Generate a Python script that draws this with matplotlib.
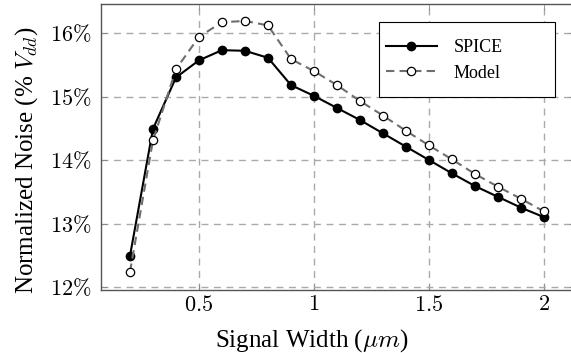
import numpy as np
import matplotlib.pyplot as plt
from matplotlib.patches import Rectangle
from matplotlib.ticker import FuncFormatter

plt.rcParams['font.family'] = ['Liberation Serif', 'DejaVu Serif']
plt.rcParams['mathtext.fontset'] = 'cm'

# signal width in um
width = [0.2, 0.3, 0.4, 0.5, 0.6, 0.7, 0.8, 0.9, 1.0, 1.1,
         1.2, 1.3, 1.4, 1.5, 1.6, 1.7, 1.8, 1.9, 2.0]
# normalized noise, % of Vdd
spice = [12.49, 14.49, 15.30, 15.57, 15.73, 15.72, 15.61, 15.18, 15.01, 14.82,
         14.63, 14.42, 14.21, 14.00, 13.79, 13.59, 13.42, 13.25, 13.10]
model = [12.24, 14.31, 15.43, 15.94, 16.17, 16.19, 16.12, 15.59, 15.40, 15.18,
         14.93, 14.70, 14.46, 14.23, 14.01, 13.78, 13.58, 13.39, 13.19]

xticks = [0.5, 1, 1.5, 2]
yticks = [12, 13, 14, 15, 16]

W, H = 571, 353
fig = plt.figure(figsize=(W/100, H/100), dpi=100)
ax = fig.add_axes([101/W, 63/H, 474/W, 286/H])

ax.plot(width, spice, '-o', color='black', lw=1.5, ms=6,
        mfc='black', mec='black', label='SPICE', zorder=3)
ax.plot(width, model, '--o', color='#6e6e6e', lw=1.5, ms=6,
        mfc='white', mec='black', mew=0.9, dashes=(4, 2.5), label='Model', zorder=3)

ax.set_xlim(0.074, 2.135)
ax.set_ylim(11.953, 16.457)
ax.set_xticks(xticks)
ax.set_yticks(yticks)
ax.xaxis.set_major_formatter(FuncFormatter(lambda v, p: r'$%g$' % v))
ax.yaxis.set_major_formatter(FuncFormatter(lambda v, p: r'$%d\%%$' % v))
ax.tick_params(direction='in', length=4, width=0.6, color='#888888',
               labelsize=16, top=True, right=True)
ax.tick_params(axis='y', pad=7)
ax.tick_params(axis='x', pad=4)

ax.grid(True, color='#aaaaaa', ls=(0, (5, 4)), lw=1.0)
ax.set_axisbelow(True)
for s in ax.spines.values():
    s.set_color('#555555')
    s.set_linewidth(1.0)

ax.set_xlabel(r'Signal Width ($\mu m$)', fontsize=18, labelpad=8)
ax.set_ylabel(r'Normalized Noise (% $V_{dd}$)', fontsize=18, labelpad=7)
ax.xaxis.label.set_x(0.445)
ax.yaxis.label.set_y(0.4545)

# legend box (wide, as in the original)
box = Rectangle((379/W, (H - 97)/H), 176/W, 75/H, transform=fig.transFigure,
                facecolor='white', edgecolor='black', lw=0.8, clip_on=False, zorder=4)
ax.add_patch(box)
leg = ax.legend(loc='center left', bbox_to_anchor=(386/W, (H - 60.5)/H),
                bbox_transform=fig.transFigure, fontsize=13, handlelength=2.8,
                frameon=False, borderpad=0, labelspacing=0.45,
                handletextpad=0.95, borderaxespad=0)
leg.set_zorder(5)

fig.savefig('out.png', dpi=100)
